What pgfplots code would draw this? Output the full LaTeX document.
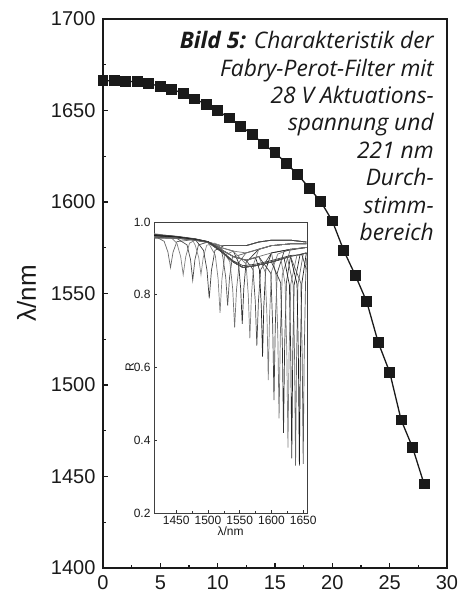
\documentclass[border=0pt]{standalone}
\usepackage{fontspec}
\setmainfont{Liberation Sans}
\newfontfamily\capfont{Open Sans}
\usepackage{pgfplots}
\pgfplotsset{compat=1.18}
\definecolor{ink}{HTML}{1A1A1A}

\begin{document}
\begin{tikzpicture}
% main axis: tuning wavelength vs. actuation voltage
\begin{axis}[
  name=main,
  scale only axis,
  width=344pt, height=549pt,
  xmin=0, xmax=30, ymin=1400, ymax=1700,
  xtick={0,5,...,30}, ytick={1400,1450,...,1700},
  minor x tick num=1, minor y tick num=1,
  tick align=inside, xtick pos=bottom, ytick pos=left,
  major tick length=5pt, minor tick length=3pt,
  tick style={line width=1.2pt, ink},
  axis line style={line width=1.6pt, ink},
  ticklabel style={font=\fontsize{20}{24}\selectfont, text=ink},
  xticklabel style={yshift=-4pt},
  yticklabel style={xshift=-4pt},
  /pgf/number format/assume math mode=true,
  /pgf/number format/1000 sep={},
  ylabel={λ/nm},
  ylabel style={font=\fontsize{26}{30}\selectfont, text=ink, yshift=8pt},
  clip=true,
]
\addplot[ink, line width=1.3pt, mark=square*, mark size=4.8pt] coordinates {
  (0,1666.3) (1,1666.3) (2,1666.0) (3,1665.6) (4,1664.7) (5,1663.2)
  (6,1661.6) (7,1659.4) (8,1656.3) (9,1653.4) (10,1649.9) (11,1645.9)
  (12,1641.5) (13,1637.0) (14,1631.7) (15,1626.9) (16,1621.1) (17,1614.9)
  (18,1607.5) (19,1600.2) (20,1589.6) (21,1573.4) (22,1560.0) (23,1545.5)
  (24,1523.3) (25,1507.0) (26,1480.9) (27,1465.8) (28,1445.9)
};
\node[anchor=north east, align=right, inner sep=0pt, text=ink,
      font=\fontsize{22.8}{27.4}\selectfont\capfont\itshape]
  at (rel axis cs:0.962,0.978)
  {\textbf{Bild 5:} Charakteristik der\\
   Fabry-Perot-Filter mit\\
   28 V Aktuations-\\
   spannung und\\
   221 nm\\
   Durch-\\
   stimm-\\
   bereich};
\end{axis}

% inset: reflection spectra
\begin{axis}[
  at={(51pt,55pt)}, anchor=south west,
  scale only axis,
  width=153pt, height=291pt,
  xmin=1415, xmax=1656, ymin=0.2, ymax=1.0,
  xtick={1450,1500,...,1650}, ytick={0.2,0.4,0.6,0.8,1.0},
  minor x tick num=1,
  tick align=inside, xtick pos=bottom, ytick pos=left,
  major tick length=3pt, minor tick length=2pt,
  tick style={line width=0.6pt, black!80},
  axis line style={line width=0.7pt, black!75},
  ticklabel style={font=\fontsize{12}{14}\selectfont, text=black!90},
  /pgf/number format/assume math mode=true,
  /pgf/number format/1000 sep={},
  yticklabel style={/pgf/number format/fixed, /pgf/number format/fixed zerofill, /pgf/number format/precision=1},
  xlabel={λ/nm}, ylabel={R},
  label style={font=\fontsize{12}{14}\selectfont, text=black!90},
  xlabel style={yshift=5pt}, ylabel style={yshift=-7pt},
  every axis plot/.append style={line width=0.7pt},
]
\addplot[black!60] coordinates {(1415,0.962)(1431,0.947)(1437,0.917)(1441,0.875)(1445,0.917)(1451,0.946)(1480,0.952)(1500,0.945)(1520,0.935)(1540,0.935)(1560,0.935)(1580,0.945)(1600,0.95)(1630,0.95)(1655,0.945)};
\addplot[black!50] coordinates {(1415,0.965)(1440,0.960)(1451,0.942)(1457,0.905)(1461,0.855)(1465,0.905)(1471,0.942)(1480,0.950)(1500,0.945)(1520,0.935)(1540,0.935)(1560,0.935)(1580,0.945)(1600,0.95)(1630,0.95)(1655,0.945)};
\addplot[black!70] coordinates {(1415,0.958)(1450,0.956)(1467,0.937)(1472.5,0.897)(1476,0.84)(1479.5,0.897)(1485,0.937)(1500,0.945)(1520,0.935)(1540,0.935)(1560,0.935)(1580,0.945)(1600,0.95)(1630,0.95)(1655,0.945)};
\addplot[black!45] coordinates {(1415,0.968)(1450,0.96)(1475,0.953)(1480,0.936)(1485.5,0.902)(1489,0.855)(1492.5,0.902)(1498,0.936)(1510,0.942)(1520,0.935)(1540,0.935)(1560,0.935)(1580,0.945)(1600,0.95)(1630,0.95)(1655,0.945)};
\addplot[black!75] coordinates {(1415,0.960)(1450,0.957)(1480,0.952)(1493,0.922)(1498.5,0.867)(1502,0.79)(1505.5,0.867)(1511,0.922)(1525,0.935)(1540,0.935)(1560,0.935)(1580,0.945)(1600,0.95)(1630,0.95)(1655,0.945)};
\addplot[black!50] coordinates {(1415,0.962)(1450,0.958)(1480,0.952)(1500,0.945)(1511.5,0.909)(1516,0.843)(1519,0.75)(1522,0.843)(1526.5,0.909)(1540,0.92)(1560,0.915)(1580,0.925)(1600,0.935)(1630,0.94)(1655,0.94)};
\addplot[black!65] coordinates {(1415,0.955)(1450,0.955)(1480,0.95)(1500,0.944)(1520,0.93)(1523.5,0.903)(1528,0.848)(1531,0.77)(1534,0.848)(1538.5,0.903)(1560,0.915)(1580,0.925)(1600,0.935)(1630,0.94)(1655,0.94)};
\addplot[black!55] coordinates {(1415,0.965)(1450,0.96)(1480,0.953)(1500,0.946)(1520,0.93)(1534.5,0.891)(1539,0.815)(1542,0.71)(1545,0.815)(1549.5,0.891)(1560,0.915)(1580,0.925)(1600,0.935)(1630,0.94)(1655,0.94)};
\addplot[black!80] coordinates {(1415,0.958)(1450,0.956)(1480,0.951)(1500,0.944)(1520,0.93)(1540,0.92)(1548,0.889)(1551.5,0.818)(1554,0.72)(1556.5,0.818)(1560,0.889)(1580,0.925)(1600,0.935)(1630,0.94)(1655,0.94)};
\addplot[black!50] coordinates {(1415,0.962)(1450,0.958)(1480,0.952)(1500,0.945)(1520,0.93)(1540,0.92)(1560,0.885)(1563.5,0.799)(1566,0.68)(1568.5,0.799)(1572,0.885)(1580,0.925)(1600,0.935)(1630,0.94)(1655,0.94)};
\addplot[black!70] coordinates {(1415,0.960)(1450,0.957)(1480,0.951)(1500,0.944)(1520,0.925)(1540,0.905)(1560,0.895)(1571,0.869)(1574.5,0.782)(1577,0.66)(1579.5,0.782)(1583,0.869)(1600,0.915)(1630,0.925)(1655,0.93)};
\addplot[black!85] coordinates {(1415,0.963)(1450,0.959)(1480,0.952)(1500,0.945)(1520,0.925)(1540,0.905)(1560,0.895)(1575,0.902)(1581,0.869)(1584,0.769)(1586,0.63)(1588,0.769)(1591,0.869)(1600,0.915)(1630,0.925)(1655,0.93)};
\addplot[black!50] coordinates {(1415,0.957)(1450,0.956)(1480,0.95)(1500,0.943)(1520,0.925)(1540,0.905)(1560,0.895)(1580,0.905)(1590,0.863)(1593,0.739)(1595,0.565)(1597,0.739)(1600,0.863)(1610,0.912)(1630,0.925)(1655,0.93)};
\addplot[black!75] coordinates {(1415,0.964)(1450,0.96)(1480,0.953)(1500,0.946)(1520,0.925)(1540,0.905)(1560,0.895)(1580,0.905)(1599,0.859)(1602,0.713)(1604,0.51)(1606,0.713)(1609,0.859)(1620,0.92)(1655,0.93)};
\addplot[black!55] coordinates {(1415,0.96)(1450,0.957)(1480,0.951)(1500,0.944)(1520,0.925)(1540,0.905)(1560,0.895)(1580,0.905)(1600,0.915)(1607,0.855)(1610,0.69)(1612,0.46)(1614,0.69)(1617,0.855)(1630,0.925)(1655,0.93)};
\addplot[black!80] coordinates {(1415,0.962)(1450,0.958)(1480,0.952)(1500,0.945)(1520,0.92)(1540,0.89)(1555,0.875)(1575,0.88)(1600,0.89)(1614.5,0.833)(1617.2,0.66)(1619,0.42)(1620.8,0.66)(1623.5,0.833)(1630,0.905)(1655,0.915)};
\addplot[black!50] coordinates {(1415,0.958)(1450,0.956)(1480,0.95)(1500,0.944)(1520,0.92)(1540,0.89)(1555,0.875)(1575,0.88)(1600,0.89)(1615,0.898)(1621.5,0.83)(1624.2,0.642)(1626,0.38)(1627.8,0.642)(1630.5,0.83)(1640,0.908)(1655,0.915)};
\addplot[black!85] coordinates {(1415,0.965)(1450,0.96)(1480,0.953)(1500,0.946)(1520,0.92)(1540,0.89)(1555,0.875)(1575,0.88)(1600,0.89)(1620,0.9)(1628.3,0.827)(1630.5,0.628)(1632,0.35)(1633.5,0.628)(1635.7,0.827)(1645,0.91)(1655,0.915)};
\addplot[black!60] coordinates {(1415,0.96)(1450,0.957)(1480,0.951)(1500,0.944)(1520,0.92)(1540,0.89)(1555,0.875)(1575,0.88)(1600,0.89)(1625,0.903)(1634.3,0.827)(1636.5,0.619)(1638,0.33)(1639.5,0.619)(1641.7,0.827)(1650,0.912)(1655,0.915)};
\addplot[black!90] coordinates {(1415,0.963)(1450,0.959)(1480,0.952)(1500,0.945)(1520,0.92)(1540,0.89)(1555,0.875)(1575,0.88)(1600,0.89)(1630,0.905)(1640.3,0.829)(1642.5,0.62)(1644,0.33)(1645.5,0.62)(1647.7,0.829)(1655,0.915)};
\addplot[black!65] coordinates {(1415,0.958)(1450,0.956)(1480,0.95)(1500,0.944)(1520,0.92)(1540,0.89)(1555,0.875)(1575,0.88)(1600,0.89)(1630,0.905)(1646.3,0.832)(1648.5,0.624)(1650,0.335)(1651.5,0.624)(1653.7,0.832)(1655,0.9)};
\addplot[black!75] coordinates {(1415,0.966)(1450,0.961)(1480,0.954)(1500,0.946)(1520,0.922)(1540,0.893)(1555,0.88)(1575,0.884)(1600,0.894)(1630,0.908)(1648,0.91)(1655,0.87)};
\end{axis}
\path (-103pt,-28pt) rectangle (369pt,568pt);
\end{tikzpicture}
\end{document}
